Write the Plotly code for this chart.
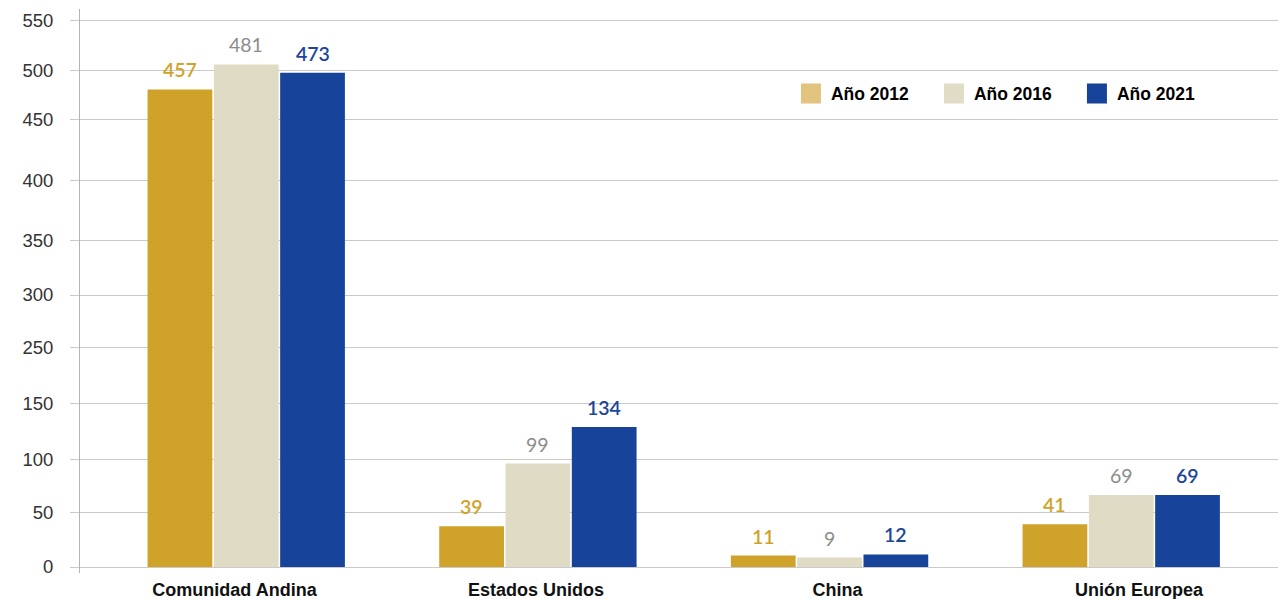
import plotly.graph_objects as go

# ---- data ----
categories = ["Comunidad Andina", "Estados Unidos", "China", "Unión Europea"]
series_names = ["Año 2012", "Año 2016", "Año 2021"]
values_2012 = [457, 39, 11, 41]
values_2016 = [481, 99, 9, 69]
values_2021 = [473, 134, 12, 69]
# y gridline positions (as drawn in the original) and their printed labels
y_grid_values = [0, 51.7, 103.3, 156.9, 209.6, 260.3, 312.9, 370.3, 427.8, 475.6, 522.8]
y_tick_labels = ["0", "50", "100", "150", "250", "300", "350", "400", "450", "500", "550"]

series_values = [values_2012, values_2016, values_2021]
bar_colors = ["#CFA32A", "#DFDBC5", "#17449A"]
legend_colors = ["#E2C47E", "#E0DCC6", "#17449A"]
label_colors = ["#CFA32A", "#8C8C8C", "#1C4699"]

x_idx = list(range(len(categories)))
slot = 0.2273
bar_w = 0.222

fig = go.Figure()
annotations = []
for k, (name, vals) in enumerate(zip(series_names, series_values)):
    off = -1.5 * slot + k * slot
    fig.add_trace(go.Bar(
        x=x_idx, y=vals, name=name,
        offset=off, width=bar_w,
        marker=dict(color=bar_colors[k], line=dict(width=0)),
        showlegend=False, hoverinfo="skip",
    ))
    for i, v in zip(x_idx, vals):
        annotations.append(dict(
            x=i + off + bar_w / 2, y=v, xref="x", yref="y",
            text=str(v), showarrow=False, yanchor="bottom", yshift=6,
            font=dict(family="Lato", size=19.5, color=label_colors[k],
                      weight=600 if k != 1 else 400),
        ))
    # legend entry
    fig.add_trace(go.Scatter(
        x=[None], y=[None], mode="markers", name=name,
        marker=dict(symbol="square", size=16, color=legend_colors[k],
                    line=dict(width=4, color=legend_colors[k])),
        showlegend=True, hoverinfo="skip",
    ))

# helper trace for the category label axis
fig.add_trace(go.Scatter(x=x_idx, y=[None] * len(x_idx), xaxis="x2",
                         showlegend=False, hoverinfo="skip", mode="markers"))

# the page body has an 8px default margin; size the figure to fill the window
fig.update_layout(
    width=1278, height=591,
    margin=dict(l=72, r=0, t=1, b=26),
    paper_bgcolor="white", plot_bgcolor="white",
    annotations=annotations,
    xaxis=dict(range=[-0.5726, 3.5623], showticklabels=False, showgrid=False,
               zeroline=False, ticks="", showline=False, fixedrange=True, automargin=False),
    xaxis2=dict(range=[-0.5124, 3.4876], overlaying="x", anchor="y", side="bottom",
                tickvals=x_idx, ticktext=categories, showgrid=False, zeroline=False,
                ticks="", showline=False, ticklabelstandoff=4, automargin=False,
                tickfont=dict(family="Liberation Sans", size=18, color="#111111", weight="bold")),
    yaxis=dict(range=[-5.74, 534], tickvals=y_grid_values, ticktext=y_tick_labels,
               showgrid=True, gridcolor="#CACACA", gridwidth=1, automargin=False,
               zeroline=False, showline=True, linecolor="#B4B4B4", linewidth=1,
               ticks="outside", ticklen=9, tickcolor="#CACACA", ticklabelstandoff=13,
               tickfont=dict(family="Liberation Sans", size=18.5, color="#333333")),
    legend=dict(orientation="h", x=0.5895, y=0.85, xanchor="left", yanchor="middle",
                font=dict(family="Liberation Sans", size=17.5, color="#000000", weight="bold"),
                entrywidth=98, entrywidthmode="pixels", bgcolor="rgba(0,0,0,0)"),
)

fig.write_html("out.html")
